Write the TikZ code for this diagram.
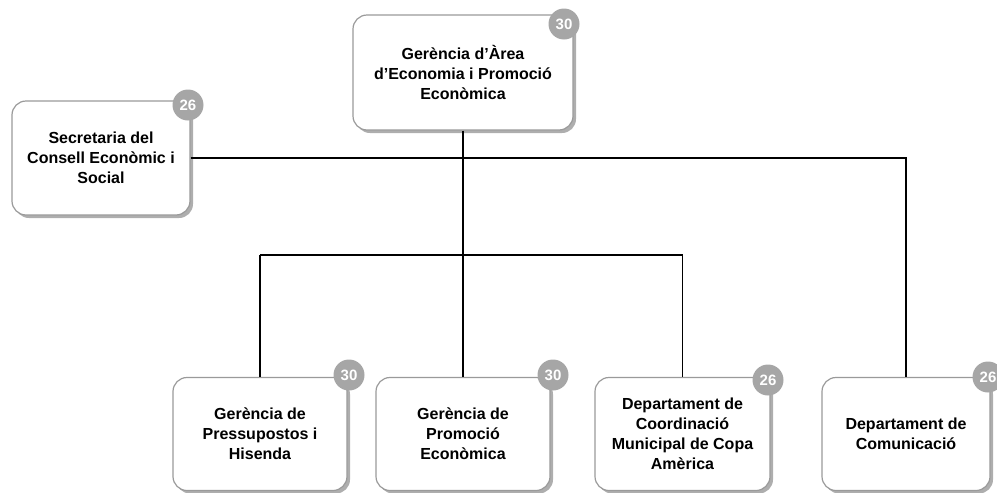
\documentclass[tikz,border=0pt]{standalone}
\usepackage{fontspec}
\setmainfont{Liberation Sans}
\usetikzlibrary{shadows,positioning}
\definecolor{badgegray}{HTML}{A6A6A6}
\definecolor{boxborder}{HTML}{9A9A9A}
\tikzset{
  orgbox/.style={draw=boxborder, line width=1.2pt, fill=white, rounded corners=14pt,
    align=center, font=\fontsize{16}{20}\selectfont\bfseries,
    drop shadow={shadow xshift=3pt, shadow yshift=-3pt, fill=black!45, opacity=0.7},
    inner sep=0pt},
  badge/.style={circle, fill=badgegray, text=white, minimum size=31pt, inner sep=0pt,
    font=\fontsize{15}{15}\selectfont\bfseries},
  link/.style={line width=1.8pt, black}
}
\begin{document}
\begin{tikzpicture}[x=1pt,y=-1pt]
\useasboundingbox (0,0) rectangle (997,493);
% boxes
\node[orgbox, minimum width=220pt, minimum height=115pt] (top) at (463,72.5) {Gerència d’Àrea\\d’Economia i Promoció\\Econòmica};
\node[orgbox, minimum width=178pt, minimum height=114pt] (sec) at (101,158) {Secretaria del\\Consell Econòmic i\\Social};
\node[orgbox, minimum width=174pt, minimum height=113pt] (b1) at (260,434) {Gerència de\\Pressupostos i\\Hisenda};
\node[orgbox, minimum width=174pt, minimum height=113pt] (b2) at (463,434) {Gerència de\\Promoció\\Econòmica};
\node[orgbox, minimum width=175pt, minimum height=113pt] (b3) at (682.5,434) {Departament de\\Coordinació\\Municipal de Copa\\Amèrica};
\node[orgbox, minimum width=168pt, minimum height=113pt] (b4) at (906,434) {Departament de\\Comunicació};
% badges
\node[badge] (ntop) at (564,24) {30};
\node[badge] (nsec) at (188,105) {26};
\node[badge] (n1) at (349,375) {30};
\node[badge] (n2) at (553,375) {30};
\node[badge] (n3) at (768,380) {26};
\node[badge] (n4) at (988,377) {26};
% connectors
\coordinate (hub) at (463,255);
\coordinate (h1) at (260,255);
\coordinate (h3) at (682.5,255);
\coordinate (c4) at (906,158);
\draw[link] (top.south) -- (hub);
\draw[link] (sec.east) -- (c4) -- (b4.north);
\draw[link] (h1) -- (h3);
\draw[link] (h1) -- (b1.north);
\draw[link] (hub) -- (b2.north);
\draw[link] (h3) -- (b3.north);
\end{tikzpicture}
\end{document}
